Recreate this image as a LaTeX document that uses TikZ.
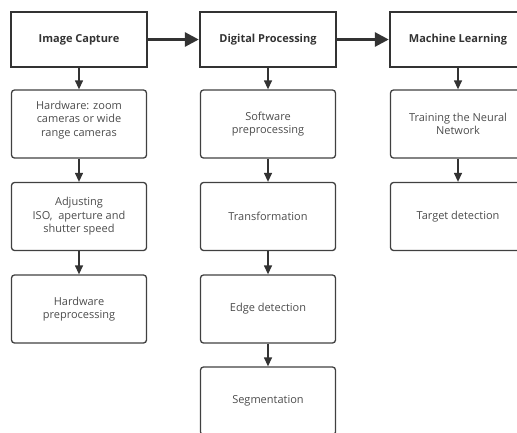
\documentclass[tikz,border=0pt]{standalone}
\usepackage{fontspec}
\setmainfont{Open Sans}
\usetikzlibrary{arrows.meta}

\begin{document}
\begin{tikzpicture}[
    x=1pt, y=1pt,
    >={Triangle[length=9pt, width=8pt]},
    head/.style={draw=black!80, line width=2.4pt, minimum width=136pt, minimum height=55pt, align=center, font=\fontsize{11}{13.5}\selectfont\bfseries, text=black!80, inner sep=2pt},
    box/.style={draw=black!75, line width=1.3pt, rounded corners=3pt, minimum width=135pt, minimum height=68pt, align=center, font=\fontsize{11}{13.5}\selectfont, text=black!70, inner sep=2pt},
    flow/.style={->, line width=1.3pt, draw=black!80},
    mainflow/.style={-{Triangle[length=14pt, width=14pt]}, line width=3pt, draw=black!80}
]
\useasboundingbox (0,0) rectangle (517,-432);
\clip (0,0) rectangle (517,-432);

% ================= Headers =================
\node[head] (capture) at (79, -39.5) {Image Capture};
\node[head] (digital) at (268, -39.5) {Digital Processing};
\node[head] (learning) at (458, -39.5) {Machine Learning};

% ================= Image capture column =================
\node[box, text depth=11pt] (hardware) at (79, -124) {Hardware: zoom\\cameras or wide\\range cameras};
\node[box] (adjust) at (79, -216.5) {Adjusting\\ISO,\ \ aperture and\\shutter speed};
\node[box] (hwpre) at (79, -309) {Hardware\\preprocessing};

% ================= Digital processing column =================
\node[box] (swpre) at (268, -124) {Software\\preprocessing};
\node[box] (transform) at (268, -216.5) {Transformation};
\node[box] (edge) at (268, -309) {Edge detection};
\node[box] (segment) at (268, -401) {Segmentation};

% ================= Machine learning column =================
\node[box] (training) at (458, -124) {Training the Neural\\Network};
\node[box] (target) at (458, -216.5) {Target detection};

% ================= Edges =================

% Main flow between stages
\draw[mainflow] (capture) -- (digital);
\draw[mainflow] (digital) -- (learning);

% Inside each stage
\draw[flow] (capture) -- (hardware);
\draw[flow] (hardware) -- (adjust);
\draw[flow] (adjust) -- (hwpre);

\draw[flow] (digital) -- (swpre);
\draw[flow] (swpre) -- (transform);
\draw[flow] (transform) -- (edge);
\draw[flow] (edge) -- (segment);

\draw[flow] (learning) -- (training);
\draw[flow] (training) -- (target);

\end{tikzpicture}
\end{document}
